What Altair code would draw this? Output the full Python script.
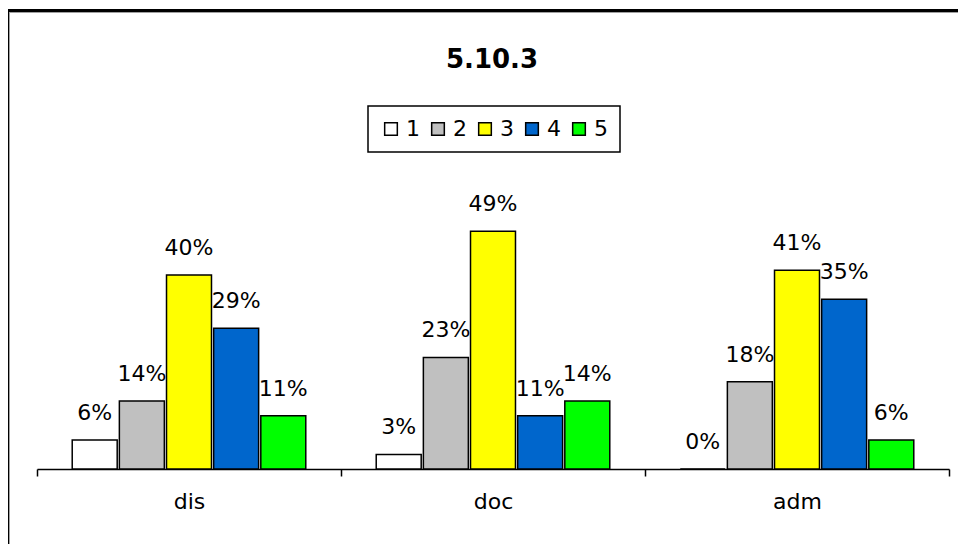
import altair as alt
import pandas as pd

categories = ["dis", "doc", "adm"]
series = ["1", "2", "3", "4", "5"]
colors = ["#FFFFFF", "#C0C0C0", "#FFFF00", "#0066CC", "#00FF00"]
values_dis = [6, 14, 40, 29, 11]
values_doc = [3, 23, 49, 11, 14]
values_adm = [0, 18, 41, 35, 6]
title_text = ["5.10.3"]

rows = []
for cat, vals in zip(categories, [values_dis, values_doc, values_adm]):
    for s, v in zip(series, vals):
        rows.append({"cat": cat, "series": s, "val": v, "label": f"{v}%"})
df = pd.DataFrame(rows)

W, H = 912, 291
FONT = "DejaVu Sans"

x_enc = alt.X(
    "cat:N",
    sort=categories,
    scale=alt.Scale(paddingInner=0, paddingOuter=0),
    axis=alt.Axis(
        title=None, labelAngle=0, tickBand="extent", domainColor="black",
        domainWidth=1.5, tickColor="black", tickWidth=1.5, tickSize=7,
        labelFontSize=22, labelColor="black", labelFont=FONT, labelPadding=15,
    ),
)
xo_enc = alt.XOffset("series:N", sort=series,
                     scale=alt.Scale(paddingInner=0.046, paddingOuter=0.747))
y_enc = alt.Y("val:Q", scale=alt.Scale(domain=[0, 60]), axis=None)

base = alt.Chart(df)

bars = base.mark_bar(stroke="black", strokeWidth=1.5).encode(
    x=x_enc,
    xOffset=xo_enc,
    y=y_enc,
    color=alt.Color(
        "series:N",
        sort=series,
        scale=alt.Scale(domain=series, range=colors),
        legend=alt.Legend(
            title=None, orient="none", legendX=331, legendY=-72,
            direction="horizontal", columns=5, symbolType="square",
            symbolSize=160, symbolStrokeColor="black", symbolStrokeWidth=1.5,
            labelFontSize=22, labelFont=FONT, labelColor="black",
            labelOffset=4, columnPadding=7, padding=12,
            strokeColor="black", fillColor="white",
        ),
    ),
)

labels = base.mark_text(fontSize=22, font=FONT, color="black",
                        baseline="alphabetic", dy=-20).encode(
    x=x_enc, xOffset=xo_enc, y=y_enc, text="label:N"
)

title = alt.Chart(pd.DataFrame({"t": title_text})).mark_text(
    fontSize=26, fontWeight="bold", font=FONT, color="black",
    baseline="alphabetic", align="center"
).encode(text="t:N", x=alt.value(W / 2 - 1), y=alt.value(-110))

frame_top = alt.Chart(df).mark_rule(color="black", strokeWidth=2).encode(
    x=alt.value(-29), x2=alt.value(W + 20), y=alt.value(-167.5)
)
frame_left = alt.Chart(df).mark_rule(color="black", strokeWidth=2).encode(
    x=alt.value(-29), y=alt.value(-167.5), y2=alt.value(H + 90)
)
shade_top = alt.Chart(df).mark_rule(color="#A0A0A0", strokeWidth=1).encode(
    x=alt.value(-27.5), x2=alt.value(W + 20), y=alt.value(-166)
)
shade_left = alt.Chart(df).mark_rule(color="#A0A0A0", strokeWidth=1).encode(
    x=alt.value(-27.5), y=alt.value(-166), y2=alt.value(H + 90)
)

chart = alt.layer(bars, labels, title, shade_top, shade_left,
                  frame_top, frame_left).properties(
    width=W, height=H,
    background="white",
    autosize=alt.AutoSizeParams(type="none"),
    padding={"left": 29, "top": 170, "right": 9, "bottom": 75},
).configure_legend(strokeWidth=1.5).configure_view(
    strokeWidth=0, stroke="transparent"
)

chart.save("out.html", embed_options={"renderer": "svg", "actions": False})
